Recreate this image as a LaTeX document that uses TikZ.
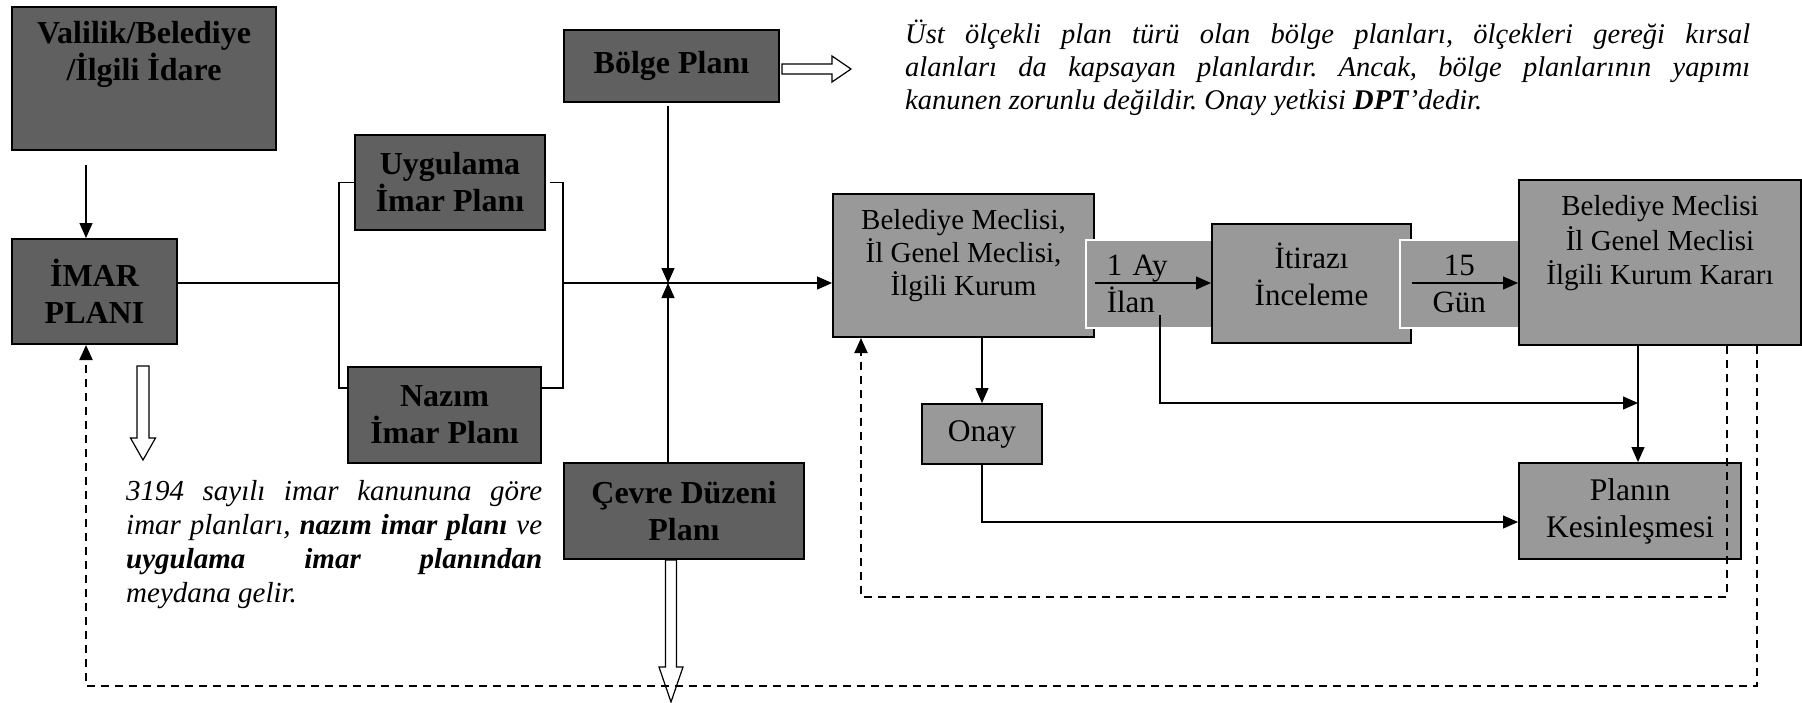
\documentclass[tikz,border=0pt]{standalone}
\usepackage{fontspec}
\setmainfont{Liberation Serif}
\usetikzlibrary{arrows.meta}
\definecolor{boxdark}{HTML}{606060}
\definecolor{boxlight}{HTML}{999999}
\frenchspacing
\tikzset{
  darkbox/.style={draw, line width=2pt, fill=boxdark, anchor=north west, inner sep=0pt, align=center, font=\bfseries\fontsize{32pt}{37pt}\selectfont},
  lightbox/.style={draw, line width=2pt, fill=boxlight, anchor=north west, inner sep=0pt, align=center, font=\fontsize{31.5pt}{37pt}\selectfont},
  bandbox/.style={draw=white, line width=1.5pt, fill=boxlight, anchor=north west, inner sep=0pt, font=\fontsize{31pt}{37pt}\selectfont},
  boxtext/.style={inner sep=0pt, align=center},
  conn/.style={line width=1.3pt},
  arr/.style={conn, -{Triangle[length=15pt,width=13pt]}},
  backline/.style={line width=2pt, dash pattern=on 8pt off 6pt, -{Triangle[length=15pt,width=13pt]}},
  hollow/.style={draw, fill=white, line width=1.2pt},
  note/.style={anchor=north west, inner sep=0pt, align=justify, font=\itshape\fontsize{29pt}{34pt}\selectfont}
}
\begin{document}
\begin{tikzpicture}[x=1pt,y=-1pt]
			%%%%% START %%%%%
			\path[use as bounding box, fill=white] (0,0) rectangle (1802,702);
			
			\coordinate (axis) at (0,283);
			\coordinate (imarx) at (86,0);
			\coordinate (midx) at (668,0);
			\coordinate (lbrb) at (339,388);
			\coordinate (rbrb) at (563,388);
			\coordinate (krow) at (0,522);
			\coordinate (kx) at (1638,0);
			\coordinate (ilan) at (1160,315);
			\coordinate (inner) at (1727,597);
			\coordinate (innerx) at (861,0);
			\coordinate (outer) at (1757,686);
			\coordinate (bnote) at (0,69);
			\coordinate (downx) at (671,0);
			\coordinate (imardown) at (143,366);
			
			% left side: plan types
			\node[darkbox, minimum width=264pt, minimum height=143pt] (vali) at (11,6) {};
			\node[boxtext, font=\bfseries\fontsize{32pt}{37pt}\selectfont] (valitext) at ([yshift=24pt]vali.center) {Valilik/Belediye\\/İlgili İdare};
			\node[darkbox, minimum width=165pt, minimum height=105pt] (imar) at (11,238) {İMAR\\PLANI};
			\node[darkbox, minimum width=190pt, minimum height=95pt] (uyg) at (354,134) {Uygulama\\İmar Planı};
			\node[darkbox, minimum width=193pt, minimum height=96pt] (naz) at (347,366) {Nazım\\İmar Planı};
			\node[darkbox, minimum width=215pt, minimum height=72pt] (bolge) at (563,29) {Bölge Planı};
			\node[darkbox, minimum width=240pt, minimum height=96pt] (cevre) at (563,462) {Çevre Düzeni\\Planı};
			
			% right side: approval chain
			\node[lightbox, minimum width=261pt, minimum height=143pt] (lbel) at (832,193) {};
			\node[boxtext, font=\fontsize{29pt}{33pt}\selectfont] (lbeltext) at ([yshift=9.5pt]lbel.center) {Belediye Meclisi,\\İl Genel Meclisi,\\İlgili Kurum};
			\node[bandbox, minimum width=126pt, minimum height=88pt, text width=84pt, align=left] (ayband) at (1085,239) {1 Ay\\İlan};
			\node[lightbox, minimum width=199pt, minimum height=119pt] (itir) at (1211,223) {};
			\node[boxtext, font=\fontsize{31pt}{37pt}\selectfont] (itirtext) at ([yshift=9pt]itir.center) {İtirazı\\İnceleme};
			\node[bandbox, minimum width=119pt, minimum height=88pt, align=center] (gunband) at (1399,239) {15\\Gün};
			\node[lightbox, minimum width=282pt, minimum height=165pt] (rbel) at (1518,179) {};
			\node[boxtext, font=\fontsize{29pt}{34.5pt}\selectfont] (rbeltext) at ([yshift=19pt]rbel.center) {Belediye Meclisi\\İl Genel Meclisi\\İlgili Kurum Kararı};
			\node[lightbox, minimum width=120pt, minimum height=60pt] (onay) at (921,403) {Onay};
			\node[lightbox, minimum width=222pt, minimum height=96pt] (plan) at (1518,462) {Planın\\Kesinleşmesi};
			
			% notes
			\node[note, text width=845pt, font=\itshape\fontsize{28.5pt}{33pt}\selectfont] (bolgenote) at (905,20) {\noindent Üst ölçekli plan türü olan bölge planları, ölçekleri gereği kırsal\linebreak alanları da kapsayan planlardır. Ancak, bölge planlarının yapımı\linebreak kanunen zorunlu değildir. Onay yetkisi \textbf{DPT}’dedir.};
			\node[note, text width=416pt] (imarnote) at (126,480) {\noindent 3194 sayılı imar kanununa göre\linebreak imar planları, \textbf{nazım imar planı} ve\linebreak \textbf{uygulama imar planından}\linebreak meydana gelir.};
			
			% hollow arrows
			\draw[hollow] (bolge.east |- bnote) ++(2,-5) -- ++(50,0) -- ++(0,-8) -- ++(19,13) -- ++(-19,13) -- ++(0,-8) -- ++(-50,0) -- cycle;
			\draw[hollow] (cevre.south -| downx) ++(-5.5,0) -- ++(0,107) -- ++(-6.5,0) -- ++(12,35) -- ++(12,-35) -- ++(-6.5,0) -- ++(0,-107) -- cycle;
			\draw[hollow] (imardown) ++(-6,0) -- ++(0,72) -- ++(-6.5,0) -- ++(12.5,22) -- ++(12.5,-22) -- ++(-6.5,0) -- ++(0,-72) -- cycle;
			
			% connectors
			\draw[arr, shorten <=14pt] (vali.south -| imarx) -- (imar.north -| imarx);
			\draw[conn] (imar.east |- axis) -- (lbrb |- axis);
			\draw[conn] (uyg.west) -| (lbrb) -- (naz.west |- lbrb);
			\draw[conn] ([xshift=4pt]uyg.east) -| (rbrb) -- (naz.east |- rbrb);
			\draw[arr] (rbrb |- axis) -- (lbel.west |- axis);
			\draw[arr, shorten <=3pt] (bolge.south -| midx) -- (axis -| midx);
			\draw[arr] (cevre.north -| midx) -- (axis -| midx);
			\draw[arr] (lbel.east |- axis) -- (itir.west |- axis);
			\draw[arr] (itir.east |- axis) -- (rbel.west |- axis);
			\draw[arr] (lbel.south -| onay.north) -- (onay.north);
			\draw[arr] (ilan) -- (ilan |- onay.north) -- (onay.north -| kx);
			\draw[arr] (rbel.south -| kx) -- (plan.north -| kx);
			\draw[arr] (onay.south) -- (onay.south |- krow) -- (plan.west |- krow);
			
			% feedback loops
			\draw[backline] (rbel.south -| inner) -- (inner) -- (inner -| innerx) -- (lbel.south -| innerx);
			\draw[backline] (rbel.south -| outer) -- (outer) -- (outer -| imarx) -- (imar.south -| imarx);
			%%%%% END %%%%%
\end{tikzpicture}
\end{document}
